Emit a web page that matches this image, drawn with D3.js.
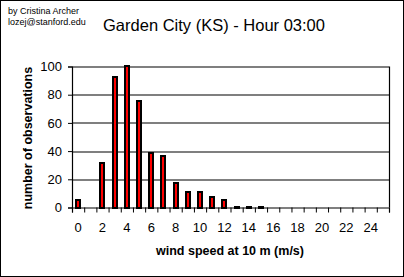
<!DOCTYPE html>
<html>
<head>
<meta charset="utf-8">
<script src="https://cdn.jsdelivr.net/npm/d3@7"></script>
<style>
  body { margin: 0; background: #fff; }
  text { font-family: Arial, "Liberation Sans", sans-serif; }
</style>
</head>
<body>
<script>
// wind speed bins (m/s) and counts
var speeds = d3.range(0, 26);
var counts = [6, 0, 32, 93, 101, 76, 39, 37, 18, 11, 11, 8, 6, 1, 1, 1, 0, 0, 0, 0, 0, 0, 0, 0, 0, 0];
var yTicks = [0, 20, 40, 60, 80, 100];
var xLabels = d3.range(0, 26, 2);

var W = 404, H = 277;
var margin = {top: 66.5, right: 15, bottom: 69.5, left: 72};
var width = W - margin.left - margin.right,
    height = H - margin.top - margin.bottom;

var svg = d3.select("body").append("svg")
  .attr("width", W)
  .attr("height", H);

// outer frame
svg.append("rect")
  .attr("x", 0.5).attr("y", 0.5)
  .attr("width", W - 1).attr("height", H - 1)
  .attr("fill", "#fff").attr("stroke", "#000");

svg.append("text").attr("x", 8).attr("y", 14)
  .attr("font-size", 9).text("by Cristina Archer");
svg.append("text").attr("x", 8).attr("y", 25)
  .attr("font-size", 9).text("lozej@stanford.edu");

svg.append("text")
  .attr("x", 214).attr("y", 31)
  .attr("text-anchor", "middle")
  .attr("font-size", 16.5)
  .text("Garden City (KS) - Hour 03:00");

var g = svg.append("g")
  .attr("transform", "translate(" + margin.left + "," + margin.top + ")");

var x = d3.scaleBand().domain(speeds).range([0, width]).padding(0);
var xb = d3.scaleLinear().domain([0, speeds.length]).range([0, width]);
var y = d3.scaleLinear().domain([0, 100]).range([height, 0]);

// gridlines
g.selectAll(".grid").data(yTicks.slice(1)).enter().append("line")
  .attr("x1", 0).attr("x2", width)
  .attr("y1", d => Math.round(y(d)) + 0.5).attr("y2", d => Math.round(y(d)) + 0.5)
  .attr("stroke", "#000").attr("stroke-width", 1.2);

// right edge of plot
g.append("line")
  .attr("x1", width + 0.5).attr("x2", width + 0.5)
  .attr("y1", y(100)).attr("y2", height)
  .attr("stroke", "#000").attr("stroke-width", 1.2);

// bars
g.selectAll(".bar").data(counts).enter().append("rect")
  .attr("x", (d, i) => Math.round(x(speeds[i]) + x.bandwidth() / 2) - 2)
  .attr("width", 4)
  .attr("y", d => Math.round(y(d)))
  .attr("height", d => height - Math.round(y(d)))
  .attr("fill", d => d > 0 ? "#ff0000" : "none")
  .attr("stroke", d => d > 0 ? "#000" : "none")
  .attr("stroke-width", 2)
  .attr("shape-rendering", "crispEdges");

// y axis
var yAxis = g.append("g")
  .call(d3.axisLeft(y).tickValues(yTicks).tickSize(4).tickPadding(6));
yAxis.selectAll("text").attr("font-size", 13).attr("fill", "#000")
  .attr("font-family", "Arial, 'Liberation Sans', sans-serif");
yAxis.select(".domain").attr("stroke-width", 1.2);

// x axis: ticks at bin edges, labels at bin centres
var xAxis = g.append("g")
  .attr("transform", "translate(0," + height + ")")
  .call(d3.axisBottom(xb).tickValues(d3.range(0, speeds.length + 1)).tickSize(5).tickFormat(""));
xAxis.select(".domain").attr("stroke-width", 1.2);

g.selectAll(".xlab").data(xLabels).enter().append("text")
  .attr("x", d => x(d) + x.bandwidth() / 2)
  .attr("y", height + 24)
  .attr("text-anchor", "middle")
  .attr("font-size", 13)
  .text(d => d);

svg.append("text")
  .attr("x", 230).attr("y", 255)
  .attr("text-anchor", "middle")
  .attr("font-size", 12.5).attr("font-weight", "bold")
  .text("wind speed at 10 m (m/s)");

svg.append("text")
  .attr("transform", "translate(32," + (margin.top + height / 2 + 1) + ") rotate(-90)")
  .attr("text-anchor", "middle")
  .attr("font-size", 12.5).attr("font-weight", "bold")
  .text("number of observations");
</script>
</body>
</html>
